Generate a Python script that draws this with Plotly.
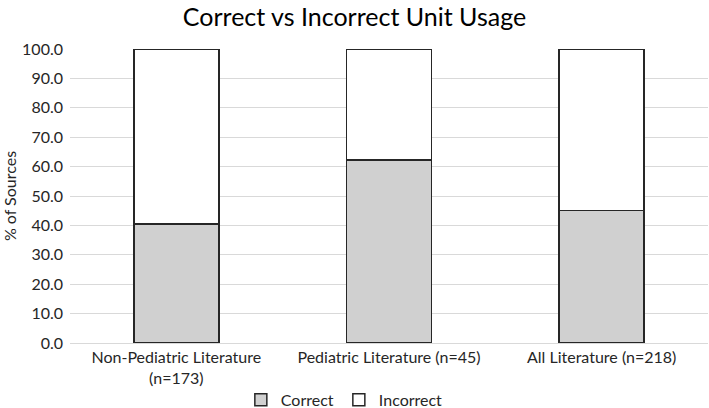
import plotly.graph_objects as go

# --- Data ---
categories = ["Non-Pediatric Literature<br>(n=173)", "Pediatric Literature (n=45)", "All Literature (n=218)"]
correct = [40.5, 62.2, 45.0]
incorrect = [59.5, 37.8, 55.0]
y_ticks = [0, 10, 20, 30, 40, 50, 60, 70, 80, 90, 100]

FONT = "Lato, 'Liberation Sans', sans-serif"
EDGE = "#262626"

fig = go.Figure()
fig.add_trace(go.Bar(
    x=categories, y=correct, name="Correct",
    marker=dict(color="#d0d0d0", line=dict(color=EDGE, width=1.5)),
))
fig.add_trace(go.Bar(
    x=categories, y=incorrect, name="Incorrect",
    marker=dict(color="#ffffff", line=dict(color=EDGE, width=1.5)),
))

fig.update_layout(
    barmode="stack",
    bargap=0.6,
    width=709, height=408,
    margin=dict(l=70, r=1, t=49, b=65),
    paper_bgcolor="#ffffff",
    plot_bgcolor="#ffffff",
    font=dict(family=FONT, size=16, color="#262626"),
    title=dict(text="Correct vs Incorrect Unit Usage", x=0.5, xanchor="center",
               y=0.958, yanchor="middle", font=dict(size=25, color="#000000")),
    # container-referenced so it does not push the bottom margin
    legend=dict(orientation="h", x=0.43, xanchor="center",
                yref="container", y=0.02, yanchor="middle",
                font=dict(size=16), traceorder="normal", itemwidth=30),
    yaxis=dict(
        range=[0, 100], tickvals=y_ticks, tickformat=".1f",
        showgrid=True, gridcolor="#d9d9d9", gridwidth=1,
        zeroline=False, showline=False, ticks="", automargin=False,
        ticklabelstandoff=6,
        title=dict(text="% of Sources", font=dict(size=16), standoff=8),
    ),
    xaxis=dict(showline=True, linecolor="#d9d9d9", ticks="", showgrid=False,
               automargin=False),
)

# drop the default body margin so the figure sits at the window origin
fig.write_html("out.html", config={"displayModeBar": False},
               post_script="document.body.style.margin='0';")
